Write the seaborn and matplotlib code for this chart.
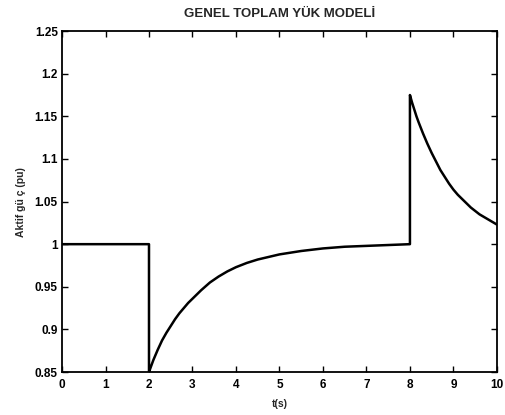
import matplotlib
matplotlib.use("Agg")
import matplotlib.pyplot as plt
import seaborn as sns
import pandas as pd

# Load model response: active power (pu) versus time (s)
t_pre = [0.0, 2.0]
p_pre = [1.0, 1.0]

# Voltage dip at t = 2 s and recovery of the load
t_rec = [2.0, 2.0, 2.05, 2.1, 2.2, 2.3, 2.4, 2.5, 2.6, 2.7, 2.8, 2.9, 3.0,
         3.2, 3.4, 3.6, 3.8, 4.0, 4.25, 4.5, 4.75, 5.0, 5.5, 6.0, 6.5, 7.0,
         7.5, 8.0]
p_rec = [1.0, 0.850, 0.857, 0.864, 0.876, 0.887, 0.896, 0.904, 0.912, 0.919,
         0.925, 0.931, 0.936, 0.946, 0.955, 0.962, 0.968, 0.973, 0.978, 0.982,
         0.985, 0.988, 0.992, 0.995, 0.997, 0.998, 0.999, 1.0]

# Voltage rise at t = 8 s and decay back towards nominal
t_dec = [8.0, 8.05, 8.1, 8.15, 8.2, 8.3, 8.4, 8.5, 8.6, 8.7, 8.8, 8.9, 9.0,
         9.1, 9.2, 9.3, 9.4, 9.5, 9.6, 9.7, 9.8, 9.9, 10.0]
p_dec = [1.175, 1.166, 1.158, 1.150, 1.143, 1.130, 1.118, 1.107, 1.097, 1.087,
         1.079, 1.071, 1.064, 1.058, 1.053, 1.048, 1.043, 1.039, 1.035, 1.032,
         1.029, 1.026, 1.023]

y_ticks = [0.85, 0.9, 0.95, 1.0, 1.05, 1.1, 1.15, 1.2, 1.25]
y_tick_labels = ["0.85", "0.9", "0.95", "1", "1.05", "1.1", "1.15", "1.2", "1.25"]
x_ticks = list(range(0, 11))

df = pd.DataFrame({
    "t": t_pre + t_rec + t_dec,
    "p": p_pre + p_rec + p_dec,
})

sns.set_style("ticks")
plt.rcParams["font.family"] = ["Liberation Sans", "DejaVu Sans"]
plt.rcParams["font.weight"] = "bold"

fig = plt.figure(figsize=(5.05, 4.15), dpi=100)
ax = fig.add_axes([0.1228, 0.1036, 0.8612, 0.8214])

sns.lineplot(data=df, x="t", y="p", estimator=None, sort=False,
             color="black", linewidth=1.8, ax=ax)

ax.set_xlim(0, 10)
ax.set_ylim(0.85, 1.25)
ax.set_xticks(x_ticks)
ax.set_xticklabels([str(v) for v in x_ticks], fontsize=8.5, fontweight="bold")
ax.set_yticks(y_ticks)
ax.set_yticklabels(y_tick_labels, fontsize=8.5, fontweight="bold")
ax.tick_params(axis="x", pad=5)
ax.tick_params(axis="y", pad=3)
ax.tick_params(direction="in", top=True, right=True, length=4, width=1,
               colors="black")
for s in ax.spines.values():
    s.set_visible(True)
    s.set_linewidth(1.3)
    s.set_color("black")

ax.set_title("GENEL TOPLAM YÜK MODELİ", fontsize=9.5, fontweight="bold", pad=10)
ax.set_xlabel("t(s)", fontsize=7.5, fontweight="bold", labelpad=6)
ax.set_ylabel("Aktif gü ç (pu)", fontsize=7.5, fontweight="bold", labelpad=6)

fig.savefig("out.png", dpi=100)
